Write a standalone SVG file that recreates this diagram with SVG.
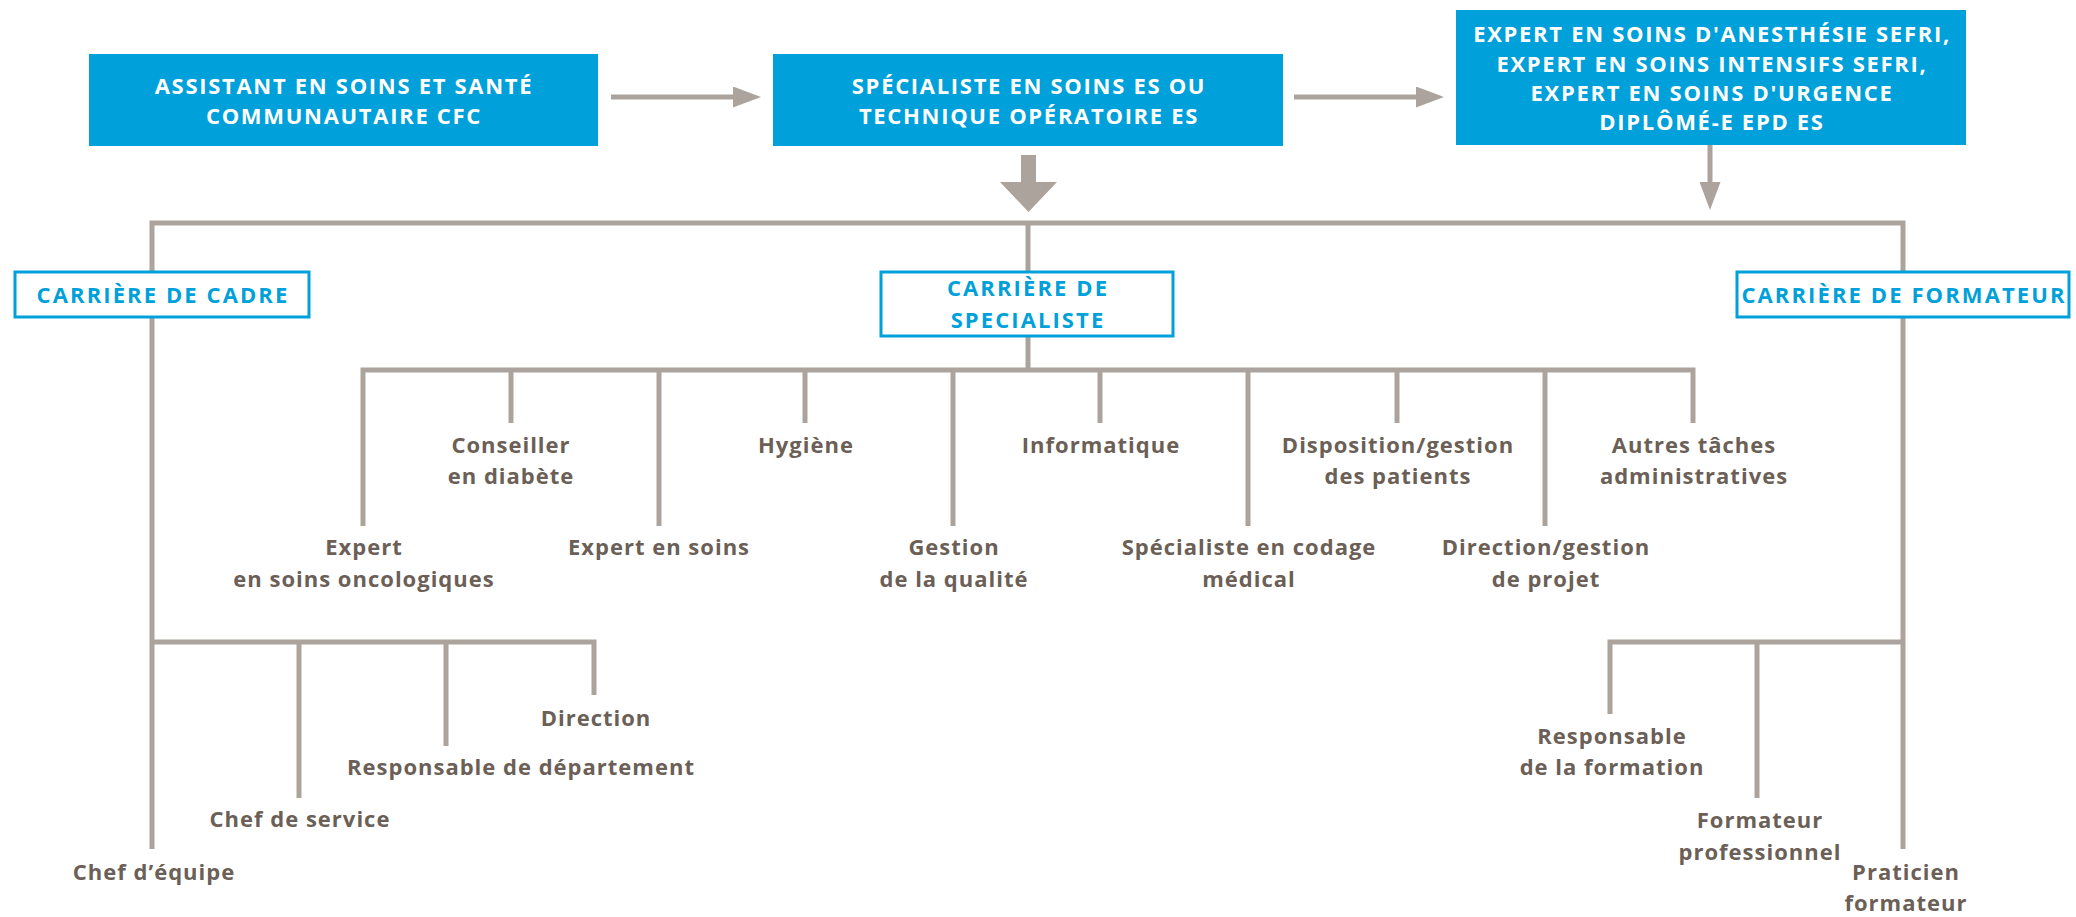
<svg xmlns="http://www.w3.org/2000/svg" width="2076" height="917" viewBox="0 0 2076 917">
<style>
.bx{fill:#00a1da}
.ht{font-family:'Open Sans','Liberation Sans',sans-serif;font-weight:700;font-size:22px;letter-spacing:1.7px;fill:#fff;text-anchor:middle}
.cb{fill:#fff;stroke:#00a1da;stroke-width:3}
.ct{font-family:'Open Sans','Liberation Sans',sans-serif;font-weight:700;font-size:22px;letter-spacing:2.1px;fill:#00a1da;text-anchor:middle}
.lb{font-family:'Open Sans','Liberation Sans',sans-serif;font-weight:700;font-size:22px;letter-spacing:1px;fill:#6b5f57;text-anchor:middle}
.ln{stroke:#aba39c;stroke-width:5;fill:none;stroke-linejoin:miter}
.ah{fill:#aba39c}
</style>
<defs>
<marker id="arr" markerUnits="userSpaceOnUse" markerWidth="28" markerHeight="21" refX="7" refY="10.5" orient="auto" viewBox="0 0 28 21">
<path class="ah" d="M0,0 L28,10.5 L0,21 Z"/>
</marker>
</defs>
<g id="connectors">
<line class="ln" x1="611" y1="97" x2="740" y2="97" marker-end="url(#arr)"/>
<line class="ln" x1="1294" y1="97" x2="1423" y2="97" marker-end="url(#arr)"/>
<line class="ln" x1="1710" y1="145" x2="1710" y2="189" marker-end="url(#arr)"/>
<polygon class="ah" points="1021,155 1036,155 1036,182 1057,182 1028.5,212 1000,182 1021,182"/>
<path class="ln" d="M152,849 V223 H1903 V849"/>
<path class="ln" d="M1028,223 V271 M1028,336 V370"/>
<path class="ln" d="M363,526 V370 H1693 V423"/>
<path class="ln" d="M511,370 V423 M659,370 V526 M805,370 V423 M953,370 V526 M1100,370 V423 M1248,370 V526 M1397,370 V423 M1545,370 V526"/>
<path class="ln" d="M152,642 H594 V695 M299,642 V798 M446,642 V746"/>
<path class="ln" d="M1903,642 H1610 V714 M1757,642 V798"/>
</g>
<g id="n-assistant">
<rect class="bx" x="89" y="54" width="509" height="92"/>
<text class="ht" x="344" y="94">ASSISTANT EN SOINS ET SANTÉ</text>
<text class="ht" x="344" y="124">COMMUNAUTAIRE CFC</text>
</g>
<g id="n-specialiste-es">
<rect class="bx" x="773" y="54" width="510" height="92"/>
<text class="ht" x="1029" y="94">SPÉCIALISTE EN SOINS ES OU</text>
<text class="ht" x="1029" y="124">TECHNIQUE OPÉRATOIRE ES</text>
</g>
<g id="n-expert">
<rect class="bx" x="1456" y="10" width="510" height="135"/>
<text class="ht" x="1712" y="42">EXPERT EN SOINS D'ANESTHÉSIE SEFRI,</text>
<text class="ht" x="1712" y="72">EXPERT EN SOINS INTENSIFS SEFRI,</text>
<text class="ht" x="1712" y="101">EXPERT EN SOINS D'URGENCE</text>
<text class="ht" x="1712" y="130">DIPLÔMÉ-E EPD ES</text>
</g>
<g id="n-cadre">
<rect class="cb" x="15" y="272" width="294" height="45"/>
<text class="ct" x="163" y="303">CARRIÈRE DE CADRE</text>
</g>
<g id="n-carriere-specialiste">
<rect class="cb" x="881" y="272" width="292" height="64"/>
<text class="ct" x="1028" y="296">CARRIÈRE DE</text>
<text class="ct" x="1028" y="328">SPECIALISTE</text>
</g>
<g id="n-formateur">
<rect class="cb" x="1737" y="272" width="332" height="45"/>
<text class="ct" x="1904" y="303">CARRIÈRE DE FORMATEUR</text>
</g>
<g id="n-oncologie"><text class="lb" x="364" y="555">Expert</text><text class="lb" x="364" y="587">en soins oncologiques</text></g>
<g id="n-diabete"><text class="lb" x="511" y="453">Conseiller</text><text class="lb" x="511" y="484">en diabète</text></g>
<g id="n-expert-soins"><text class="lb" x="659" y="555">Expert en soins</text></g>
<g id="n-hygiene"><text class="lb" x="806" y="453">Hygiène</text></g>
<g id="n-qualite"><text class="lb" x="954" y="555">Gestion</text><text class="lb" x="954" y="587">de la qualité</text></g>
<g id="n-informatique"><text class="lb" x="1101" y="453">Informatique</text></g>
<g id="n-codage"><text class="lb" x="1249" y="555">Spécialiste en codage</text><text class="lb" x="1249" y="587">médical</text></g>
<g id="n-disposition"><text class="lb" x="1398" y="453">Disposition/gestion</text><text class="lb" x="1398" y="484">des patients</text></g>
<g id="n-projet"><text class="lb" x="1546" y="555">Direction/gestion</text><text class="lb" x="1546" y="587">de projet</text></g>
<g id="n-autres"><text class="lb" x="1694" y="453">Autres tâches</text><text class="lb" x="1694" y="484">administratives</text></g>
<g id="n-direction"><text class="lb" x="596" y="726">Direction</text></g>
<g id="n-resp-dept"><text class="lb" x="521" y="775">Responsable de département</text></g>
<g id="n-chef-service"><text class="lb" x="300" y="827">Chef de service</text></g>
<g id="n-chef-equipe"><text class="lb" x="154" y="880">Chef d’équipe</text></g>
<g id="n-resp-formation"><text class="lb" x="1612" y="744">Responsable</text><text class="lb" x="1612" y="775">de la formation</text></g>
<g id="n-formateur-pro"><text class="lb" x="1760" y="828">Formateur</text><text class="lb" x="1760" y="860">professionnel</text></g>
<g id="n-praticien"><text class="lb" x="1906" y="880">Praticien</text><text class="lb" x="1906" y="911">formateur</text></g>
</svg>
